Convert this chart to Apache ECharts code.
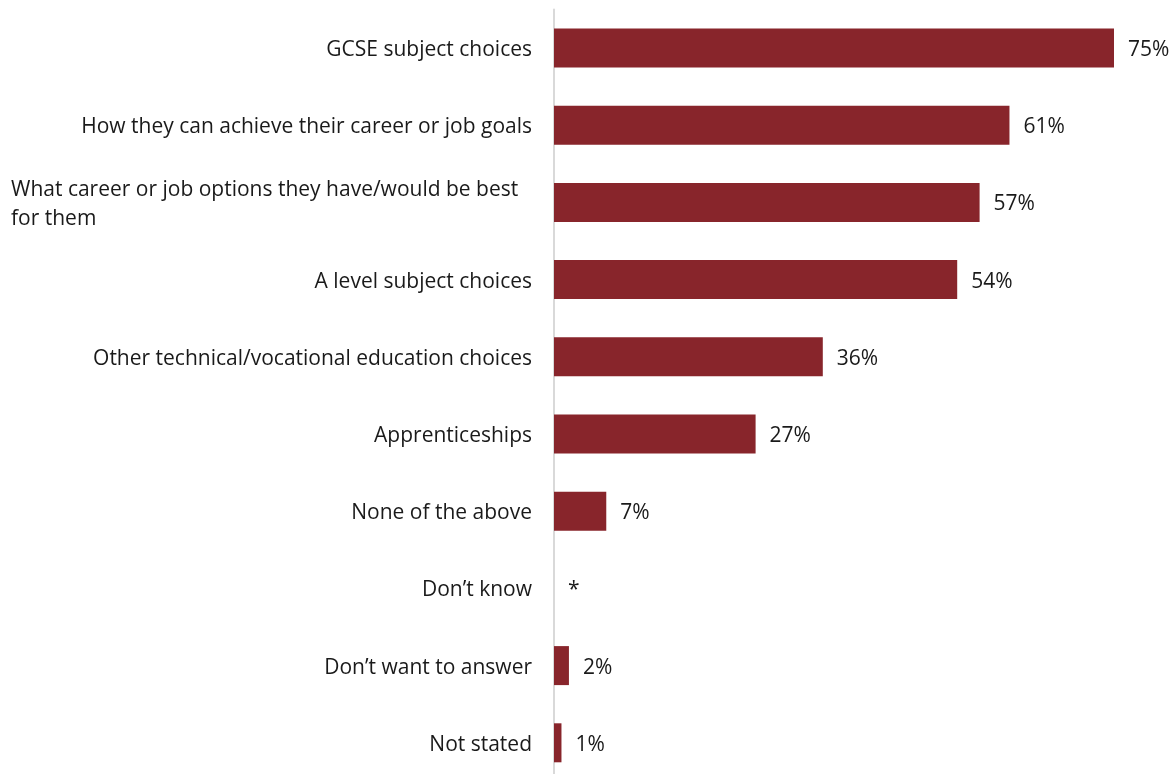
<!DOCTYPE html>
<html>
<head>
<meta charset="utf-8">
<script src="https://cdn.jsdelivr.net/npm/echarts@6/dist/echarts.min.js"></script>
<style>html,body{margin:0;padding:0;background:#fff;overflow:hidden}#c{width:1173px;height:790px}</style>
</head>
<body>
<div id="c"></div>
<script>
var categories = [
  'GCSE subject choices',
  'How they can achieve their career or job goals',
  'What career or job options they have/would be best\nfor them',
  'A level subject choices',
  'Other technical/vocational education choices',
  'Apprenticeships',
  'None of the above',
  'Don\u2019t know',
  'Don\u2019t want to answer',
  'Not stated'
];
var values = [75, 61, 57, 54, 36, 27, 7, 0, 2, 1];
var valueLabels = ['75%', '61%', '57%', '54%', '36%', '27%', '7%', '*', '2%', '1%'];

var FONT = '"Open Sans", "Noto Sans", sans-serif';
var chart = echarts.init(document.getElementById('c'));
chart.setOption({
  animation: false,
  grid: { left: 554, right: 59, top: 9.4, height: 772, containLabel: false },
  xAxis: { type: 'value', min: 0, max: 75, show: false },
  yAxis: {
    type: 'category',
    inverse: true,
    data: categories,
    axisLine: { show: true, lineStyle: { color: '#d9d9d9', width: 2 } },
    axisTick: { show: false },
    axisLabel: {
      margin: 22,
      fontFamily: FONT,
      fontSize: 21,
      color: '#1a1a1a',
      padding: [4, 0, 0, 0],
      formatter: function (v) {
        if (v.indexOf('\n') >= 0) {
          return v.split('\n').map(function (s) { return '{w|' + s + '}'; }).join('\n');
        }
        return v;
      },
      rich: {
        w: { width: 521, align: 'left', fontFamily: FONT, fontSize: 21, color: '#1a1a1a', lineHeight: 29 }
      }
    }
  },
  series: [{
    type: 'bar',
    data: values,
    barWidth: 39,
    itemStyle: { color: '#88252b' },
    label: {
      show: true,
      position: 'right',
      distance: 14,
      offset: [0, 2],
      fontFamily: FONT,
      fontSize: 21,
      color: '#1a1a1a',
      formatter: function (p) { return valueLabels[p.dataIndex]; }
    }
  }]
});
</script>
</body>
</html>
